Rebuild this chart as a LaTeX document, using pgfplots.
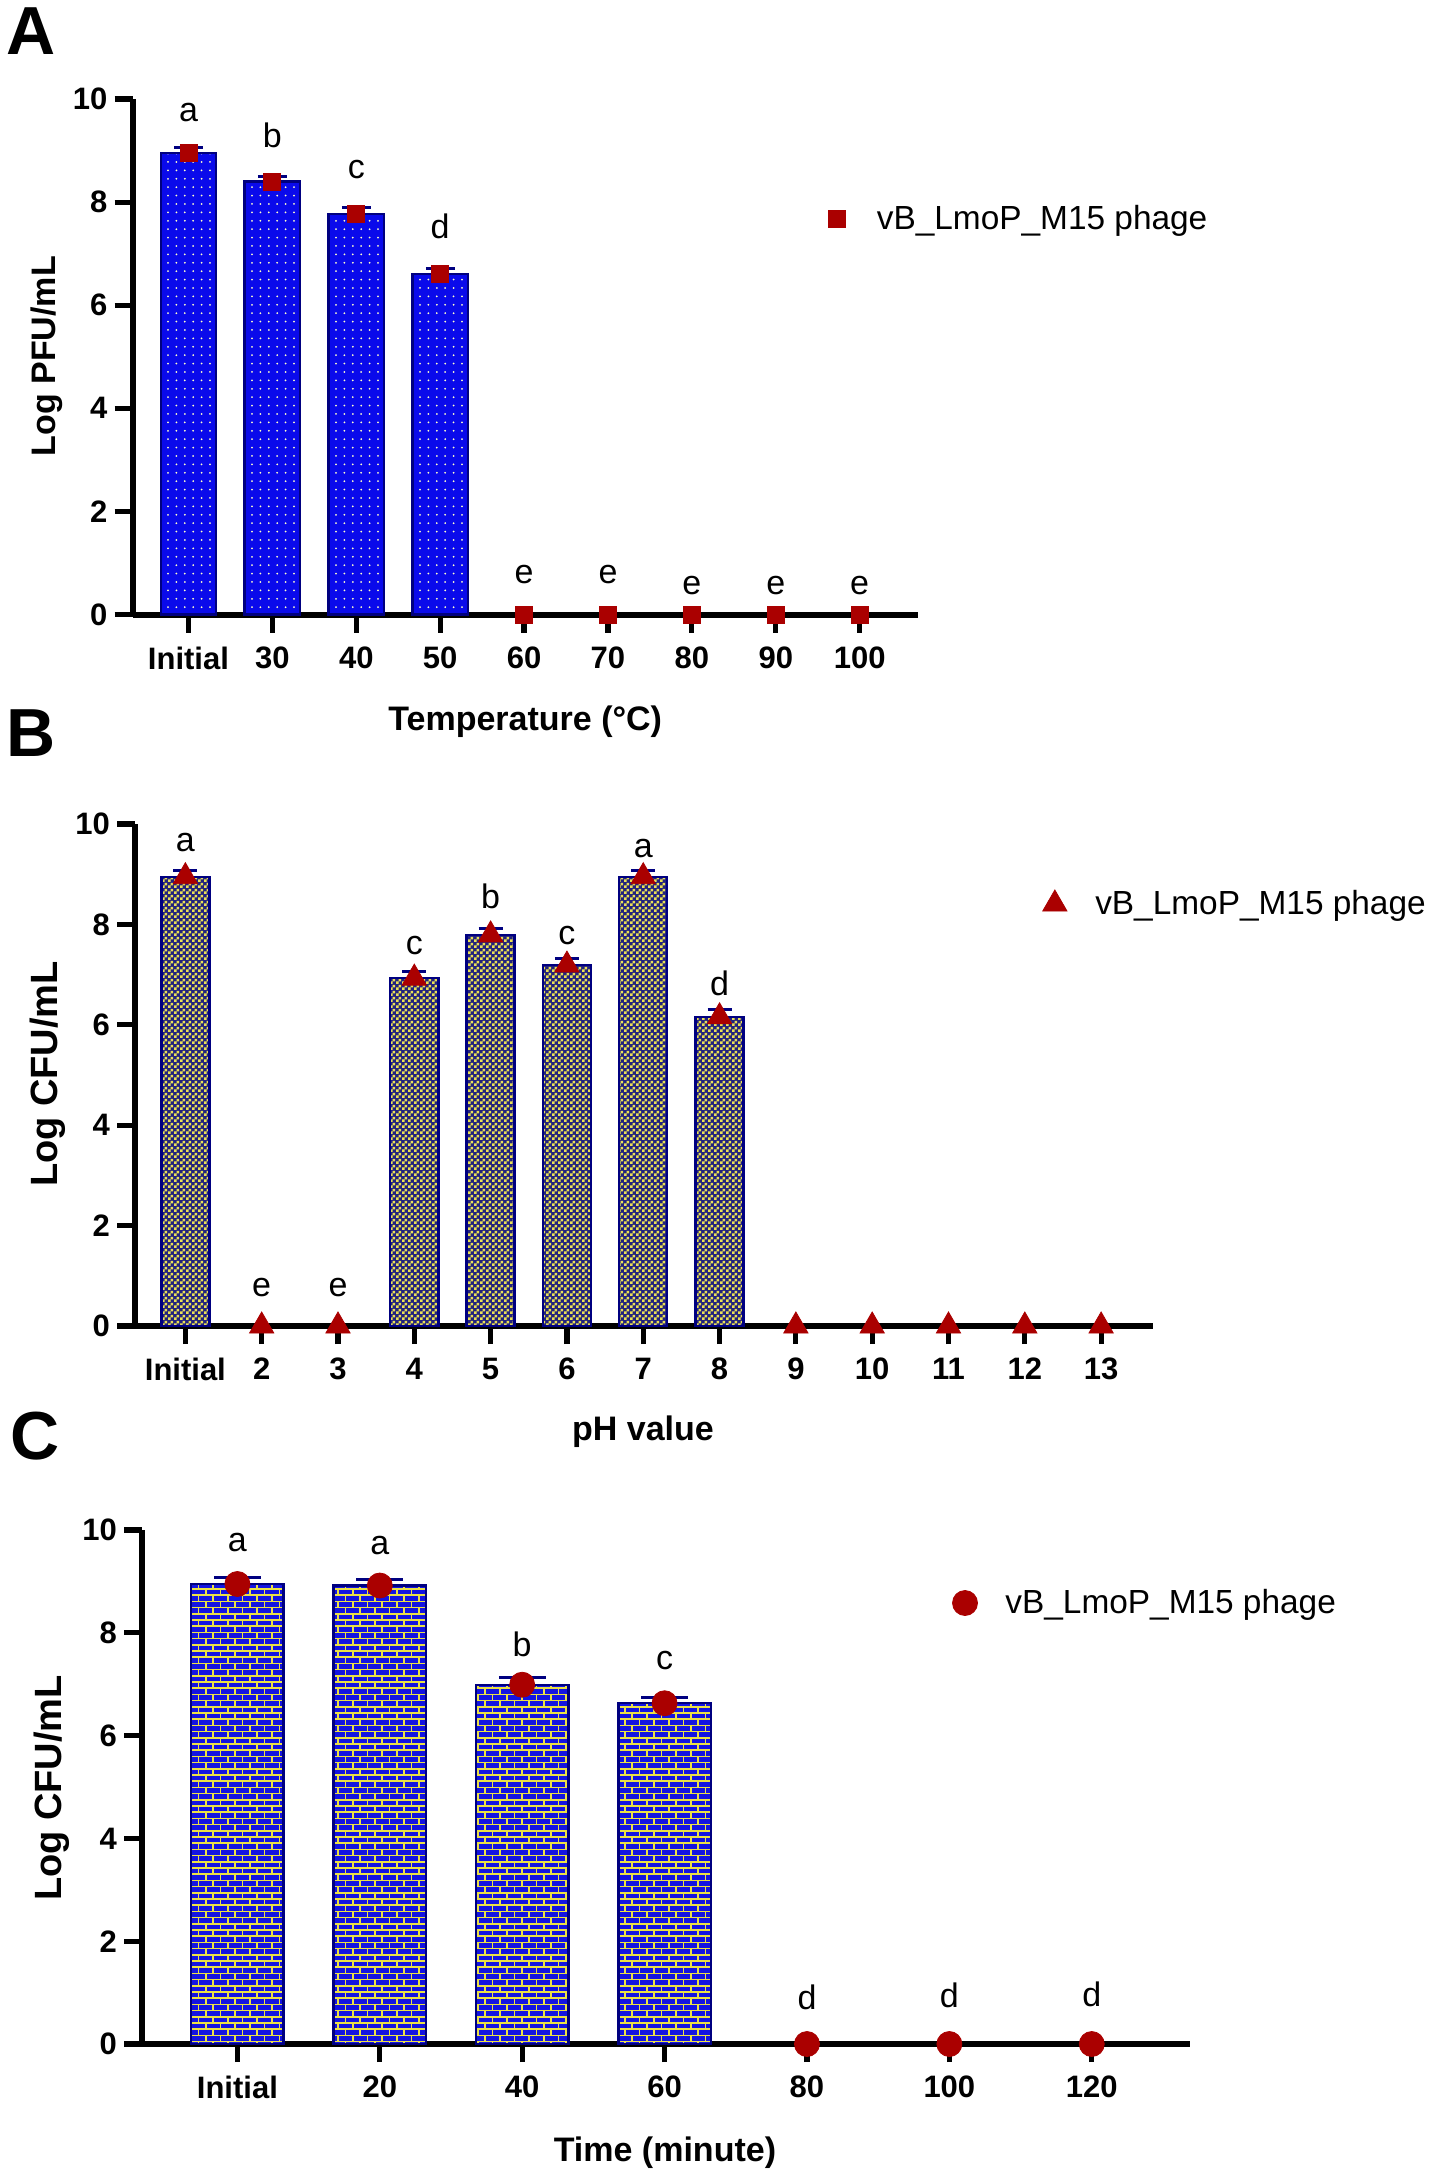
\documentclass[border=0pt]{standalone}
\usepackage{pgfplots}
\pgfplotsset{compat=1.18}
\usepackage{fontspec}
\setmainfont{Liberation Sans}
\usetikzlibrary{patterns}

\definecolor{navy}{RGB}{0,0,128}
\definecolor{barblueA}{RGB}{10,10,235}
\definecolor{dotcol}{RGB}{255,255,200}
\definecolor{chkdark}{RGB}{35,35,125}
\definecolor{chkyel}{RGB}{235,225,85}
\definecolor{brickblue}{RGB}{20,20,225}
\definecolor{brickyel}{RGB}{235,225,70}
\definecolor{mred}{RGB}{170,0,0}

\pgfdeclarepatternformonly{mydots}{\pgfpoint{-1pt}{-1pt}}{\pgfpoint{1pt}{1pt}}{\pgfpoint{4.2pt}{4.2pt}}{%
  \pgfpathcircle{\pgfpointorigin}{0.5pt}\pgfusepath{fill}}
\pgfdeclarepatternformonly{mychecker}{\pgfpointorigin}{\pgfpoint{3pt}{3pt}}{\pgfpoint{3pt}{3pt}}{%
  \pgfpathrectangle{\pgfpointorigin}{\pgfpoint{1.5pt}{1.5pt}}%
  \pgfpathrectangle{\pgfpoint{1.5pt}{1.5pt}}{\pgfpoint{1.5pt}{1.5pt}}%
  \pgfusepath{fill}}
\pgfdeclarepatternformonly{mybricks}{\pgfpoint{-0.5pt}{-0.5pt}}{\pgfpoint{7.85pt}{6.7pt}}{\pgfpoint{7.35pt}{6.2pt}}{%
  \pgfsetlinewidth{0.8pt}%
  \pgfpathmoveto{\pgfpoint{0pt}{0pt}}\pgfpathlineto{\pgfpoint{7.35pt}{0pt}}%
  \pgfpathmoveto{\pgfpoint{0pt}{3.1pt}}\pgfpathlineto{\pgfpoint{7.35pt}{3.1pt}}%
  \pgfpathmoveto{\pgfpoint{0pt}{0pt}}\pgfpathlineto{\pgfpoint{0pt}{3.1pt}}%
  \pgfpathmoveto{\pgfpoint{3.675pt}{3.1pt}}\pgfpathlineto{\pgfpoint{3.675pt}{6.2pt}}%
  \pgfusepath{stroke}}

\tikzset{letter/.style={font=\fontsize{17}{20}\selectfont, anchor=center, inner sep=0pt}}

\pgfplotsset{
  panel/.style={
    scale only axis, clip=false,
    axis lines*=left,
    axis line style={line width=3pt},
    ymin=0, ymax=10, ytick={0,2,4,6,8,10},
    tick align=outside, major tick length=9pt,
    every tick/.style={black, line width=2.6pt},
    tick label style={font=\bfseries\fontsize{15.5}{18}\selectfont},
    xticklabel style={yshift=-3.5pt},
    /pgf/number format/assume math mode=true,
    label style={font=\bfseries\fontsize{17}{20}\selectfont},
    legend style={draw=none, fill=none, inner sep=0pt, font=\fontsize{16.7}{20}\selectfont, anchor=west},
    legend image code/.code={\path (-6pt,0pt) (18pt,0pt); \draw[##1] plot coordinates {(0pt,0pt)};},
  },
}

\begin{document}
\begin{tikzpicture}
\useasboundingbox (0,0) rectangle (714.5pt,-1089pt);

% ---------------- Panel A ----------------
\node[font=\bfseries\fontsize{34}{36}\selectfont, inner sep=0pt] at (15.5pt,-15.5pt) {A};
\begin{axis}[panel,
  at={(66.25pt,-307.25pt)}, anchor=south west,
  width=392.75pt, height=257.75pt,
  xmin=-0.667, xmax=8.695,
  xtick={0,1,2,3,4,5,6,7,8},
  xticklabels={Initial,30,40,50,60,70,80,90,100},
  xlabel={Temperature (°C)},
  ylabel={Log PFU/mL},
  xlabel style={at={(axis description cs:0.500,-0.2085)}, anchor=center},
  ylabel style={at={(axis description cs:-0.1095,0.501)}, anchor=center},
  legend style={at={(axis description cs:0.8799,0.767)}},
]
\addplot[ybar, bar width=0.66, draw=navy, line width=1.2pt,
  preaction={fill=barblueA}, pattern=mydots, pattern color=dotcol, forget plot,
  error bars/.cd, y dir=plus, y explicit,
  error bar style={navy, line width=1.5pt},
  error mark options={rotate=90, navy, mark size=7.2pt, line width=1.5pt}]
  coordinates {(0,8.95) +- (0,0.10) (1,8.40) +- (0,0.09) (2,7.77) +- (0,0.12) (3,6.60) +- (0,0.11)};
\addplot[only marks, mark=square*, mark size=4.25pt, color=mred]
  coordinates {(0,8.95) (1,8.40) (2,7.77) (3,6.60) (4,0) (5,0) (6,0) (7,0) (8,0)};
\addlegendentry{vB\_LmoP\_M15 phage}
\node[letter] at (axis cs:0,9.73) {a};
\node[letter] at (axis cs:1,9.30) {b};
\node[letter] at (axis cs:2,8.63) {c};
\node[letter] at (axis cs:3,7.52) {d};
\node[letter] at (axis cs:4,0.77) {e};
\node[letter] at (axis cs:5,0.77) {e};
\node[letter] at (axis cs:6,0.56) {e};
\node[letter] at (axis cs:7,0.56) {e};
\node[letter] at (axis cs:8,0.56) {e};
\end{axis}

% ---------------- Panel B ----------------
\node[font=\bfseries\fontsize{34}{36}\selectfont, inner sep=0pt] at (15.5pt,-366.5pt) {B};
\begin{axis}[panel,
  at={(67.5pt,-663pt)}, anchor=south west,
  width=509pt, height=251pt,
  xmin=-0.66, xmax=12.68,
  xtick={0,1,2,3,4,5,6,7,8,9,10,11,12},
  xticklabels={Initial,2,3,4,5,6,7,8,9,10,11,12,13},
  xlabel={pH value},
  ylabel={Log CFU/mL},
  ylabel style={font=\bfseries\fontsize{19}{22}\selectfont},
  xlabel style={at={(axis description cs:0.499,-0.211)}, anchor=center},
  ylabel style={at={(axis description cs:-0.0855,0.502)}, anchor=center},
  legend style={at={(axis description cs:0.891,0.8406)}},
]
\addplot[ybar, bar width=0.63, draw=navy, line width=1.2pt,
  preaction={fill=chkdark}, pattern=mychecker, pattern color=chkyel, forget plot,
  error bars/.cd, y dir=plus, y explicit,
  error bar style={navy, line width=1.5pt},
  error mark options={rotate=90, navy, mark size=6pt, line width=1.5pt}]
  coordinates {(0,8.95) +- (0,0.13) (3,6.93) +- (0,0.14) (4,7.79) +- (0,0.13)
               (5,7.19) +- (0,0.14) (6,8.95) +- (0,0.13) (7,6.16) +- (0,0.15)};
\addplot[only marks, mark=triangle*, mark size=7pt, color=mred]
  coordinates {(0,8.95) (1,0) (2,0) (3,6.93) (4,7.79) (5,7.19) (6,8.95) (7,6.16)
               (8,0) (9,0) (10,0) (11,0) (12,0)};
\addlegendentry{vB\_LmoP\_M15 phage}
\node[letter] at (axis cs:0,9.63) {a};
\node[letter] at (axis cs:1,0.76) {e};
\node[letter] at (axis cs:2,0.76) {e};
\node[letter] at (axis cs:3,7.58) {c};
\node[letter] at (axis cs:4,8.56) {b};
\node[letter] at (axis cs:5,7.78) {c};
\node[letter] at (axis cs:6,9.52) {a};
\node[letter] at (axis cs:7,6.82) {d};
\end{axis}

% ---------------- Panel C ----------------
\node[font=\bfseries\fontsize{34}{36}\selectfont, inner sep=0pt] at (17.5pt,-718pt) {C};
\begin{axis}[panel,
  at={(71pt,-1022pt)}, anchor=south west,
  width=524pt, height=257pt,
  xmin=-0.67, xmax=6.69,
  xtick={0,1,2,3,4,5,6},
  xticklabels={Initial,20,40,60,80,100,120},
  xlabel={Time (minute)},
  ylabel={Log CFU/mL},
  ylabel style={font=\bfseries\fontsize{19}{22}\selectfont},
  xlabel style={at={(axis description cs:0.499,-0.212)}, anchor=center},
  ylabel style={at={(axis description cs:-0.0859,0.498)}, anchor=center},
  legend style={at={(axis description cs:0.773,0.858)}},
]
\addplot[ybar, bar width=0.65, draw=navy, line width=1.2pt,
  preaction={fill=brickblue}, pattern=mybricks, pattern color=brickyel, forget plot,
  error bars/.cd, y dir=plus, y explicit,
  error bar style={navy, line width=1.5pt},
  error mark options={rotate=90, navy, mark size=11.7pt, line width=1.5pt}]
  coordinates {(0,8.95) +- (0,0.13) (1,8.92) +- (0,0.12) (2,6.99) +- (0,0.14) (3,6.63) +- (0,0.12)};
\addplot[only marks, mark=*, mark size=6.25pt, color=mred]
  coordinates {(0,8.95) (1,8.92) (2,6.99) (3,6.63) (4,0) (5,0) (6,0)};
\addlegendentry{vB\_LmoP\_M15 phage}
\node[letter] at (axis cs:0,9.75) {a};
\node[letter] at (axis cs:1,9.70) {a};
\node[letter] at (axis cs:2,7.78) {b};
\node[letter] at (axis cs:3,7.47) {c};
\node[letter] at (axis cs:4,0.90) {d};
\node[letter] at (axis cs:5,0.95) {d};
\node[letter] at (axis cs:6,0.97) {d};
\end{axis}
\end{tikzpicture}
\end{document}
